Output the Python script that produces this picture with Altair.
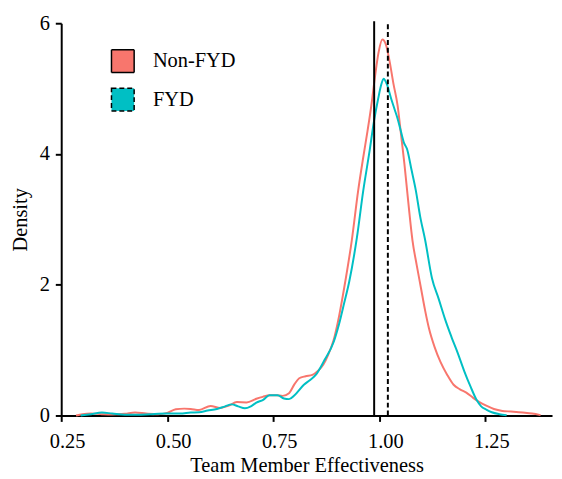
import altair as alt
import pandas as pd

groups = ["Non-FYD", "FYD"]
colors = ["#F8766D", "#00BFC4"]
dashes = [[1, 0], [5, 3]]

red_x = [0.285, 0.300, 0.320, 0.346, 0.370, 0.400, 0.424, 0.450, 0.478, 0.500,
         0.520, 0.540, 0.555, 0.575, 0.602, 0.625, 0.645, 0.664, 0.687, 0.710,
         0.725, 0.741, 0.757, 0.772, 0.787, 0.800, 0.811, 0.826, 0.842, 0.855,
         0.868, 0.880, 0.892, 0.905, 0.917, 0.935, 0.950, 0.962, 0.972, 0.981,
         0.990, 0.998, 1.007, 1.015, 1.024, 1.033, 1.043, 1.051, 1.059, 1.066,
         1.078, 1.088, 1.098, 1.108, 1.117, 1.130, 1.144, 1.160, 1.175, 1.190,
         1.205, 1.221, 1.237, 1.252, 1.270, 1.290, 1.310, 1.338, 1.360, 1.380]
red_y = [0.000, 0.020, 0.030, 0.020, 0.015, 0.025, 0.045, 0.030, 0.020, 0.040,
         0.095, 0.105, 0.100, 0.085, 0.145, 0.115, 0.150, 0.205, 0.200, 0.255,
         0.285, 0.310, 0.310, 0.300, 0.340, 0.480, 0.570, 0.600, 0.620, 0.680,
         0.780, 0.940, 1.150, 1.520, 1.950, 2.680, 3.440, 3.950, 4.350, 4.740,
         5.200, 5.550, 5.750, 5.680, 5.420, 5.080, 4.740, 4.300, 3.850, 3.400,
         2.680, 2.300, 1.950, 1.600, 1.330, 1.050, 0.820, 0.620, 0.470, 0.400,
         0.350, 0.270, 0.200, 0.150, 0.100, 0.070, 0.060, 0.045, 0.030, 0.005]

cyan_x = [0.296, 0.320, 0.346, 0.370, 0.400, 0.430, 0.460, 0.500, 0.530, 0.555,
          0.575, 0.595, 0.617, 0.635, 0.652, 0.667, 0.683, 0.697, 0.710, 0.726,
          0.741, 0.760, 0.775, 0.787, 0.800, 0.822, 0.836, 0.850, 0.870, 0.892,
          0.905, 0.917, 0.929, 0.947, 0.962, 0.977, 0.987, 0.997, 1.004, 1.010,
          1.018, 1.028, 1.036, 1.043, 1.051, 1.058, 1.065, 1.076, 1.086, 1.096,
          1.108, 1.124, 1.140, 1.155, 1.170, 1.185, 1.200, 1.215, 1.229, 1.240,
          1.252, 1.265, 1.283, 1.300]
cyan_y = [0.000, 0.020, 0.045, 0.030, 0.010, 0.010, 0.020, 0.030, 0.030, 0.045,
          0.050, 0.075, 0.100, 0.135, 0.170, 0.140, 0.110, 0.140, 0.196, 0.240,
          0.310, 0.310, 0.260, 0.250, 0.310, 0.470, 0.540, 0.620, 0.840, 1.120,
          1.400, 1.720, 2.050, 2.720, 3.440, 4.050, 4.490, 4.840, 5.050, 5.150,
          5.060, 4.840, 4.680, 4.540, 4.340, 4.170, 4.080, 3.750, 3.440, 3.050,
          2.680, 2.100, 1.780, 1.470, 1.200, 0.950, 0.680, 0.440, 0.240, 0.140,
          0.090, 0.050, 0.020, 0.003]

mean_x = [0.9877, 1.020]
rule_bottom = [0, 0]
rule_top = [6.03, 6.03]

x_ticks = [0.25, 0.50, 0.75, 1.00, 1.25]
y_ticks = [0, 2, 4, 6]

curves = pd.DataFrame({
    "x": red_x + cyan_x,
    "density": red_y + cyan_y,
    "group": ["Non-FYD"] * len(red_x) + ["FYD"] * len(cyan_x),
})
means = pd.DataFrame({"group": groups, "mean": mean_x,
                      "bottom": rule_bottom, "top": rule_top})

FONT = "Liberation Serif"
FS = 20.7
xscale = alt.Scale(domain=[0.25, 1.407], nice=False, zero=False)
yscale = alt.Scale(domain=[0, 6], nice=False)
color_scale = alt.Scale(domain=groups, range=colors)
dash_scale = alt.Scale(domain=groups, range=dashes)

legend = alt.Legend(title=None, orient="none", legendX=50, legendY=26,
                    symbolType="square", symbolSize=529, symbolStrokeWidth=1.5,
                    symbolOpacity=1,
                    labelFont=FONT, labelFontSize=FS, labelColor="black",
                    labelOffset=18, rowPadding=10, padding=0, labelLimit=0)

x_axis = alt.Axis(title="Team Member Effectiveness", values=x_ticks,
                  format=".2f", labelFlush=False)
y_axis = alt.Axis(title="Density", values=y_ticks, format="d")

keys = alt.Chart(means).mark_square(filled=True, clip=True).encode(
    x=alt.X("mean:Q", scale=xscale, axis=x_axis),
    y=alt.value(-300),
    color=alt.Color("group:N", scale=color_scale, legend=legend),
    strokeDash=alt.StrokeDash("group:N", scale=dash_scale, legend=legend),
    stroke=alt.value("black"),
    strokeWidth=alt.value(1.5),
)

lines = alt.Chart(curves).mark_line(strokeWidth=2, interpolate="monotone").encode(
    x=alt.X("x:Q", scale=xscale, axis=x_axis),
    y=alt.Y("density:Q", scale=yscale, axis=y_axis),
    color=alt.Color("group:N", scale=color_scale, legend=None),
    detail="group:N",
)

rules = alt.Chart(means).mark_rule(color="black", strokeWidth=2).encode(
    x=alt.X("mean:Q", scale=xscale, axis=x_axis),
    y=alt.Y("bottom:Q", scale=yscale, axis=y_axis),
    y2="top:Q",
    strokeDash=alt.StrokeDash("group:N", scale=dash_scale, legend=None),
)

chart = alt.layer(keys, lines, rules).resolve_legend(
    color="independent", strokeDash="independent"
).properties(
    width=498, height=398,
    autosize=alt.AutoSizeParams(type="none"),
    padding={"left": 54, "top": 12, "right": 2, "bottom": 61},
).configure_axis(
    labelFont=FONT, titleFont=FONT, labelFontSize=FS, titleFontSize=FS,
    labelColor="black", titleColor="black", domainColor="black", tickColor="black",
    domainWidth=2, tickWidth=2, tickSize=6, grid=False, titleFontWeight="normal",
).configure_axisX(
    labelPadding=11, labelOffset=6, titleBaseline="alphabetic", titleY=57,
).configure_axisY(
    labelPadding=6, titlePadding=9,
).configure_view(stroke=None)

chart.save("out.html", embed_options={"renderer": "svg", "actions": False})
